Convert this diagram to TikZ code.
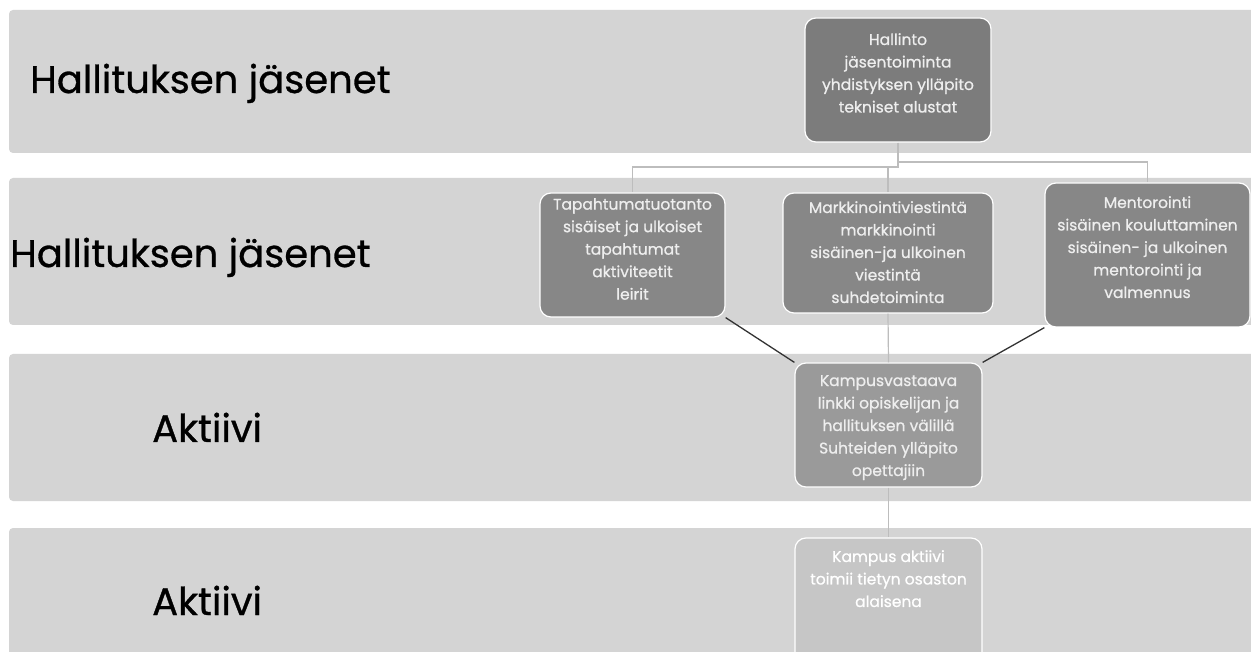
\documentclass[tikz,border=0pt]{standalone}
\usepackage{fontspec}
\setmainfont{Poppins}
\newfontfamily\heavyfont{Poppins}[FakeBold=0.8]
\definecolor{bandgrey}{HTML}{D4D4D4}
\definecolor{topbox}{HTML}{7C7C7C}
\definecolor{midbox}{HTML}{878787}
\definecolor{linkbox}{HTML}{9A9A9A}
\definecolor{lowbox}{HTML}{C6C6C6}
\definecolor{boxtext}{HTML}{EEEEEE}
\definecolor{treeline}{HTML}{BDBDBD}
\definecolor{linkline}{HTML}{333333}
\begin{document}
\begin{tikzpicture}[x=1pt,y=-1pt,
  band/.style={fill=bandgrey, rounded corners=4pt},
  bandlabel/.style={anchor=base west, inner sep=0pt, font=\heavyfont\fontsize{38.5}{46}\selectfont, text=black},
  unit/.style={draw=white, line width=1.2pt, rounded corners=11pt, inner sep=0pt},
  unittext/.style={anchor=north, align=center, inner sep=0pt, text=boxtext,
    font=\heavyfont\fontsize{15.5}{22.5}\selectfont},
  tree/.style={draw=treeline, line width=1.2pt},
  link/.style={draw=linkline, line width=1.3pt}
]
\clip (0,0) rectangle (1251,652);
\fill[white] (0,0) rectangle (1251,652);

% horizontal bands
\fill[band] (9,10) rectangle (1270,153);
\fill[band] (9,178) rectangle (1270,325);
\fill[band] (9,354) rectangle (1270,501);
\fill[band] (9,528) rectangle (1270,670);

\node[bandlabel] (l1) at (30,93) {Hallituksen jäsenet};
\node[bandlabel] (l2) at (10,267) {Hallituksen jäsenet};
\node[bandlabel] (l3) at (152,442) {Aktiivi};
\node[bandlabel] (l4) at (152,615) {Aktiivi};

% box shapes
\node[unit, fill=topbox, minimum width=186pt, minimum height=124pt] (hal) at (898,80) {};
\node[unit, fill=midbox, minimum width=185pt, minimum height=124pt] (tap) at (632.5,255) {};
\node[unit, fill=midbox, minimum width=210pt, minimum height=120pt] (mar) at (888,253) {};
\node[unit, fill=midbox, minimum width=205pt, minimum height=144pt] (men) at (1147.5,255) {};
\node[unit, fill=linkbox, minimum width=187pt, minimum height=124pt] (kv) at (888.5,425) {};
\node[unit, fill=lowbox, minimum width=187pt, minimum height=130pt] (ka) at (888.5,603) {};

% levels of the two branch buses
\coordinate (busL) at (0,167);
\coordinate (busR) at (0,162);

% tree connectors
\draw[tree] (hal.south) -- (hal.south |- busL) -| (tap.north);
\draw[tree] (hal.south |- busR) -| (men.north);
\draw[tree] (mar.north |- busL) -- (mar.north);
\draw[tree] (mar.south) -- (kv.north);
\draw[tree] (kv.south) -- (ka.north);

% links to the campus representative
\draw[link] (tap.south east) -- (kv.north west);
\draw[link] (men.south west) -- (kv.north east);

% box texts
\node[unittext] (halT) at (898,33) {Hallinto\\jäsentoiminta\\yhdistyksen ylläpito\\tekniset alustat};
\node[unittext] (tapT) at (632.5,198) {Tapahtumatuotanto\\sisäiset ja ulkoiset\\tapahtumat\\aktiviteetit\\leirit};
\node[unittext] (marT) at (888,201) {Markkinointiviestintä\\markkinointi\\sisäinen-ja ulkoinen\\viestintä\\suhdetoiminta};
\node[unittext] (menT) at (1147.5,196) {Mentorointi\\sisäinen kouluttaminen\\sisäinen- ja ulkoinen\\mentorointi ja\\valmennus};
\node[unittext] (kvT) at (888.5,375) {Kampusvastaava\\linkki opiskelijan ja\\hallituksen välillä\\Suhteiden ylläpito\\opettajiin};
\node[unittext, text=white] (kaT) at (888.5,550) {Kampus aktiivi\\toimii tietyn osaston\\alaisena};
\end{tikzpicture}
\end{document}
